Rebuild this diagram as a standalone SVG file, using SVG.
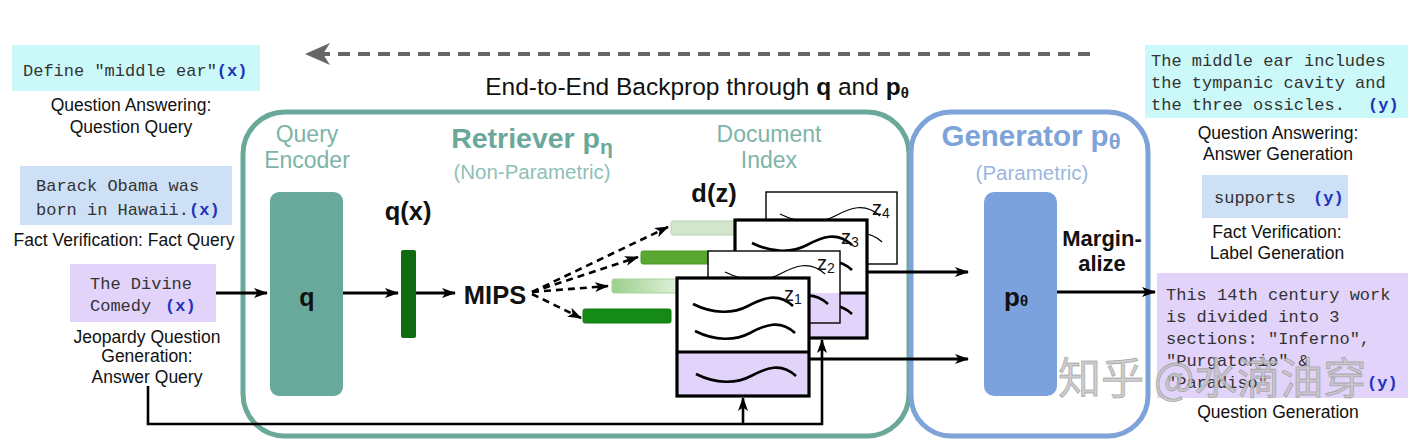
<svg xmlns="http://www.w3.org/2000/svg" width="1423" height="442" viewBox="0 0 1423 442">
<style>
.sans{font-family:"Liberation Sans",Arial,sans-serif;}
.mono{font-family:"Liberation Mono","Courier New",monospace;font-size:17px;fill:#333;}
.var{font-weight:bold;fill:#2233bb;}
.lbl{font-family:"Liberation Sans",Arial,sans-serif;font-size:17.5px;fill:#111;text-anchor:middle;}
.conn{stroke:#000;stroke-width:3;fill:none;}
.dash{stroke:#000;stroke-width:2.6;fill:none;stroke-dasharray:7 5;}
.thick{stroke:#000;stroke-width:3.2;}
.thin{stroke:#000;stroke-width:1.4;}
.wthick{stroke:#000;stroke-width:2.6;fill:none;}
.wthin{stroke:#000;stroke-width:1.2;fill:none;}
.lav{fill:#e2d3fa;}
.zl{font-family:"Liberation Sans",Arial,sans-serif;font-size:20px;fill:#111;}
</style>
<defs>
<marker id="ah" viewBox="0 0 14 10" refX="13" refY="5" markerWidth="14" markerHeight="10" markerUnits="userSpaceOnUse" orient="auto">
<path d="M0,0 L14,5 L0,10 L3.5,5 z" fill="#000"/>
</marker>
<marker id="ahd" viewBox="0 0 14 10" refX="13" refY="5" markerWidth="14" markerHeight="11" markerUnits="userSpaceOnUse" orient="auto">
<path d="M0,0 L14,5 L0,10 L3.5,5 z" fill="#000"/>
</marker>
<linearGradient id="g3" x1="0" y1="0" x2="1" y2="0">
<stop offset="0" stop-color="#9ccf8c"/>
<stop offset="1" stop-color="#e4f2de"/>
</linearGradient>
<path id="wave" d="M0,0 C20,10 40,10 55,2 S85,-12 100,2"/>
</defs>

<rect width="1423" height="442" fill="#fff"/>

<!-- backprop -->
<g id="backprop">
<line x1="1090" y1="54" x2="322" y2="54" stroke="#666" stroke-width="4" stroke-dasharray="12 8"/>
<path d="M305,54 L330,43 L323,54 L330,65 z" fill="#666"/>
<text class="sans" x="697" y="95" font-size="24.5" text-anchor="middle" fill="#111">End-to-End Backprop through <tspan font-weight="bold">q</tspan> and <tspan font-weight="bold">p</tspan><tspan font-weight="bold" font-size="15" dy="3">θ</tspan></text>
</g>

<!-- left inputs -->
<g id="qa-input">
<rect x="12" y="45" width="248" height="46" fill="#cbf9f9"/>
<text class="mono" x="23" y="76">Define "middle ear"<tspan class="var">(x)</tspan></text>
<text class="lbl" x="131" y="111">Question Answering:</text>
<text class="lbl" x="131" y="133">Question Query</text>
</g>
<g id="fv-input">
<rect x="20" y="166" width="212" height="59" fill="#cde0f6"/>
<text class="mono" x="36" y="191">Barack Obama was</text>
<text class="mono" x="36" y="215">born in Hawaii.<tspan class="var">(x)</tspan></text>
<text class="lbl" x="124" y="246">Fact Verification: Fact Query</text>
</g>
<g id="jq-input">
<rect x="70" y="264" width="146" height="58" fill="#e2d3fa"/>
<text class="mono" x="90" y="289">The Divine</text>
<text class="mono" x="90" y="311">Comedy <tspan class="var" x="165">(x)</tspan></text>
<text class="lbl" x="147" y="343">Jeopardy Question</text>
<text class="lbl" x="147" y="362">Generation:</text>
<text class="lbl" x="147" y="383">Answer Query</text>
</g>

<!-- retriever -->
<g id="retriever">
<rect x="243" y="112" width="666" height="324" rx="42" fill="none" stroke="#6aa89a" stroke-width="5"/>
<text class="sans" x="307" y="142" font-size="23" fill="#7db4a7" text-anchor="middle">Query</text>
<text class="sans" x="307" y="168" font-size="23" fill="#7db4a7" text-anchor="middle">Encoder</text>
<text class="sans" x="532" y="148" font-size="28.5" font-weight="bold" fill="#6aa89a" text-anchor="middle">Retriever p<tspan font-size="21" dy="6">η</tspan></text>
<text class="sans" x="532" y="179" font-size="20.5" fill="#8fc0b4" text-anchor="middle">(Non-Parametric)</text>
<text class="sans" x="769" y="142" font-size="23" fill="#7db4a7" text-anchor="middle">Document</text>
<text class="sans" x="769" y="168" font-size="23" fill="#7db4a7" text-anchor="middle">Index</text>
</g>

<g id="query-encoder">
<rect x="270" y="192" width="73" height="204" rx="9" fill="#68a99b"/>
<text class="sans" x="307" y="306" font-size="25" font-weight="bold" fill="#111" text-anchor="middle">q</text>
</g>

<g id="qx">
<text class="sans" x="408" y="220" font-size="25.5" font-weight="bold" fill="#111" text-anchor="middle">q(x)</text>
<rect x="401" y="250" width="15" height="88" rx="2" fill="#0f6a10"/>
</g>

<g id="mips">
<text class="sans" x="495" y="304" font-size="25.5" font-weight="bold" fill="#111" text-anchor="middle">MIPS</text>
</g>

<g id="dz">
<text class="sans" x="714" y="202" font-size="25.5" font-weight="bold" fill="#111" text-anchor="middle">d(z)</text>
<rect x="671" y="221" width="70" height="14" rx="2" fill="#d3e6cd" stroke="#b7d3ad" stroke-width="1"/>
<rect x="641" y="251" width="70" height="13" rx="2" fill="#5aa832" stroke="#4b9a28" stroke-width="1"/>
<rect x="612" y="279" width="70" height="14" rx="2" fill="url(#g3)" stroke="#a9d49c" stroke-width="1"/>
<rect x="583" y="309" width="88" height="14" rx="2" fill="#168a16" stroke="#0f7a10" stroke-width="1"/>
</g>

<!-- documents -->
<g id="doc-z4">
<rect x="766" y="192" width="131" height="72" fill="#fff" class="thin"/>
<use href="#wave" class="wthin" transform="translate(780,214)"/>
<use href="#wave" class="wthin" transform="translate(782,240)"/>
<text class="zl" x="872" y="215">z<tspan font-size="14" dy="3">4</tspan></text>
</g>
<g id="doc-z3">
<rect x="735" y="220" width="132" height="73" fill="#fff"/>
<rect x="735" y="293" width="132" height="45" class="lav"/>
<rect x="735" y="220" width="132" height="118" fill="none" class="thick"/>
<line x1="735" y1="293" x2="867" y2="293" class="thick"/>
<use href="#wave" class="wthick" transform="translate(752,243)"/>
<use href="#wave" class="wthick" transform="translate(752,268)"/>
<use href="#wave" class="wthick" transform="translate(752,312)"/>
<text class="zl" x="841" y="244">z<tspan font-size="14" dy="3">3</tspan></text>
</g>
<g id="doc-z2">
<rect x="708" y="251" width="132" height="42" fill="#fff"/>
<rect x="708" y="293" width="132" height="30" class="lav"/>
<rect x="708" y="251" width="132" height="72" fill="none" class="thin"/>
<use href="#wave" class="wthin" transform="translate(725,272)"/>
<use href="#wave" class="wthick" transform="translate(728,302)"/>
<text class="zl" x="817" y="270">z<tspan font-size="14" dy="3">2</tspan></text>
</g>
<g id="doc-z1">
<rect x="677" y="278" width="132" height="74" fill="#fff"/>
<rect x="677" y="352" width="132" height="44" class="lav"/>
<rect x="677" y="278" width="132" height="118" fill="none" class="thick"/>
<line x1="677" y1="352" x2="809" y2="352" class="thick"/>
<use href="#wave" class="wthick" transform="translate(693,304)"/>
<use href="#wave" class="wthick" transform="translate(695,331)"/>
<use href="#wave" class="wthick" transform="translate(696,374)"/>
<text class="zl" x="784" y="301">z<tspan font-size="14" dy="3">1</tspan></text>
</g>

<!-- generator -->
<g id="generator">
<rect x="911" y="112" width="237" height="324" rx="40" fill="none" stroke="#7ea3d9" stroke-width="5"/>
<text class="sans" x="1031" y="146" font-size="29.5" font-weight="bold" fill="#7ea3d9" text-anchor="middle">Generator p<tspan font-size="22" dy="3">θ</tspan></text>
<text class="sans" x="1032" y="180" font-size="20.5" fill="#9ab6e0" text-anchor="middle">(Parametric)</text>
<rect x="984" y="192" width="73" height="204" rx="10" fill="#7ba2dc"/>
<text class="sans" x="1016" y="306" font-size="26" font-weight="bold" fill="#111" text-anchor="middle">p<tspan font-size="15">θ</tspan></text>
<text class="sans" x="1102" y="246" font-size="22" font-weight="bold" fill="#111" text-anchor="middle">Margin-</text>
<text class="sans" x="1102" y="271" font-size="22" font-weight="bold" fill="#111" text-anchor="middle">alize</text>
</g>

<!-- right outputs -->
<g id="qa-output">
<rect x="1145" y="45" width="263" height="73" fill="#cbf9f9"/>
<text class="mono" x="1151" y="66">The middle ear includes</text>
<text class="mono" x="1151" y="88">the tympanic cavity and</text>
<text class="mono" x="1151" y="110">the three ossicles. <tspan class="var" x="1368">(y)</tspan></text>
<text class="lbl" x="1278" y="139">Question Answering:</text>
<text class="lbl" x="1278" y="160">Answer Generation</text>
</g>
<g id="fv-output">
<rect x="1202" y="175" width="146" height="43" fill="#cde0f6"/>
<text class="mono" x="1214" y="203">supports <tspan class="var" x="1313">(y)</tspan></text>
<text class="lbl" x="1277" y="238">Fact Verification:</text>
<text class="lbl" x="1277" y="259">Label Generation</text>
</g>
<g id="jq-output">
<rect x="1157" y="273" width="251" height="125" fill="#e2d3fa"/>
<text class="mono" x="1166" y="300">This 14th century work</text>
<text class="mono" x="1166" y="322">is divided into 3</text>
<text class="mono" x="1166" y="344">sections: "Inferno",</text>
<text class="mono" x="1166" y="366">"Purgatorio" &amp;</text>
<text class="mono" x="1166" y="388">"Paradiso" <tspan class="var" x="1367">(y)</tspan></text>
<text class="lbl" x="1278" y="418">Question Generation</text>
</g>

<!-- connectors -->
<g id="connectors">
<line x1="216" y1="293" x2="267" y2="293" class="conn" marker-end="url(#ah)"/>
<line x1="343" y1="293" x2="398" y2="293" class="conn" marker-end="url(#ah)"/>
<line x1="416" y1="293" x2="455" y2="293" class="conn" marker-end="url(#ah)"/>
<line x1="532" y1="292" x2="668" y2="227" class="dash" marker-end="url(#ahd)"/>
<line x1="532" y1="292" x2="638" y2="257" class="dash" marker-end="url(#ahd)"/>
<line x1="532" y1="292" x2="608" y2="286" class="dash" marker-end="url(#ahd)"/>
<line x1="532" y1="294" x2="581" y2="318" class="dash" marker-end="url(#ahd)"/>
<line x1="867" y1="272" x2="968" y2="272" class="conn" marker-end="url(#ah)"/>
<line x1="809" y1="359" x2="968" y2="359" class="conn" marker-end="url(#ah)"/>
<line x1="1057" y1="292" x2="1155" y2="292" class="conn" marker-end="url(#ah)"/>
<polyline points="148,386 148,424 822,424 822,340" stroke="#000" stroke-width="2.6" fill="none" marker-end="url(#ah)"/>
<line x1="743" y1="424" x2="743" y2="398" stroke="#000" stroke-width="2.6" marker-end="url(#ah)"/>
</g>

<!-- watermark -->
<g id="watermark">
<text x="1058" y="394" font-family="'Noto Sans CJK SC',sans-serif" font-size="43" fill="#c4c4c4" fill-opacity="0.85" stroke="#8a8a8a" stroke-width="0.8" stroke-opacity="0.6">知乎 @水滴油穿</text>
</g>
</svg>
